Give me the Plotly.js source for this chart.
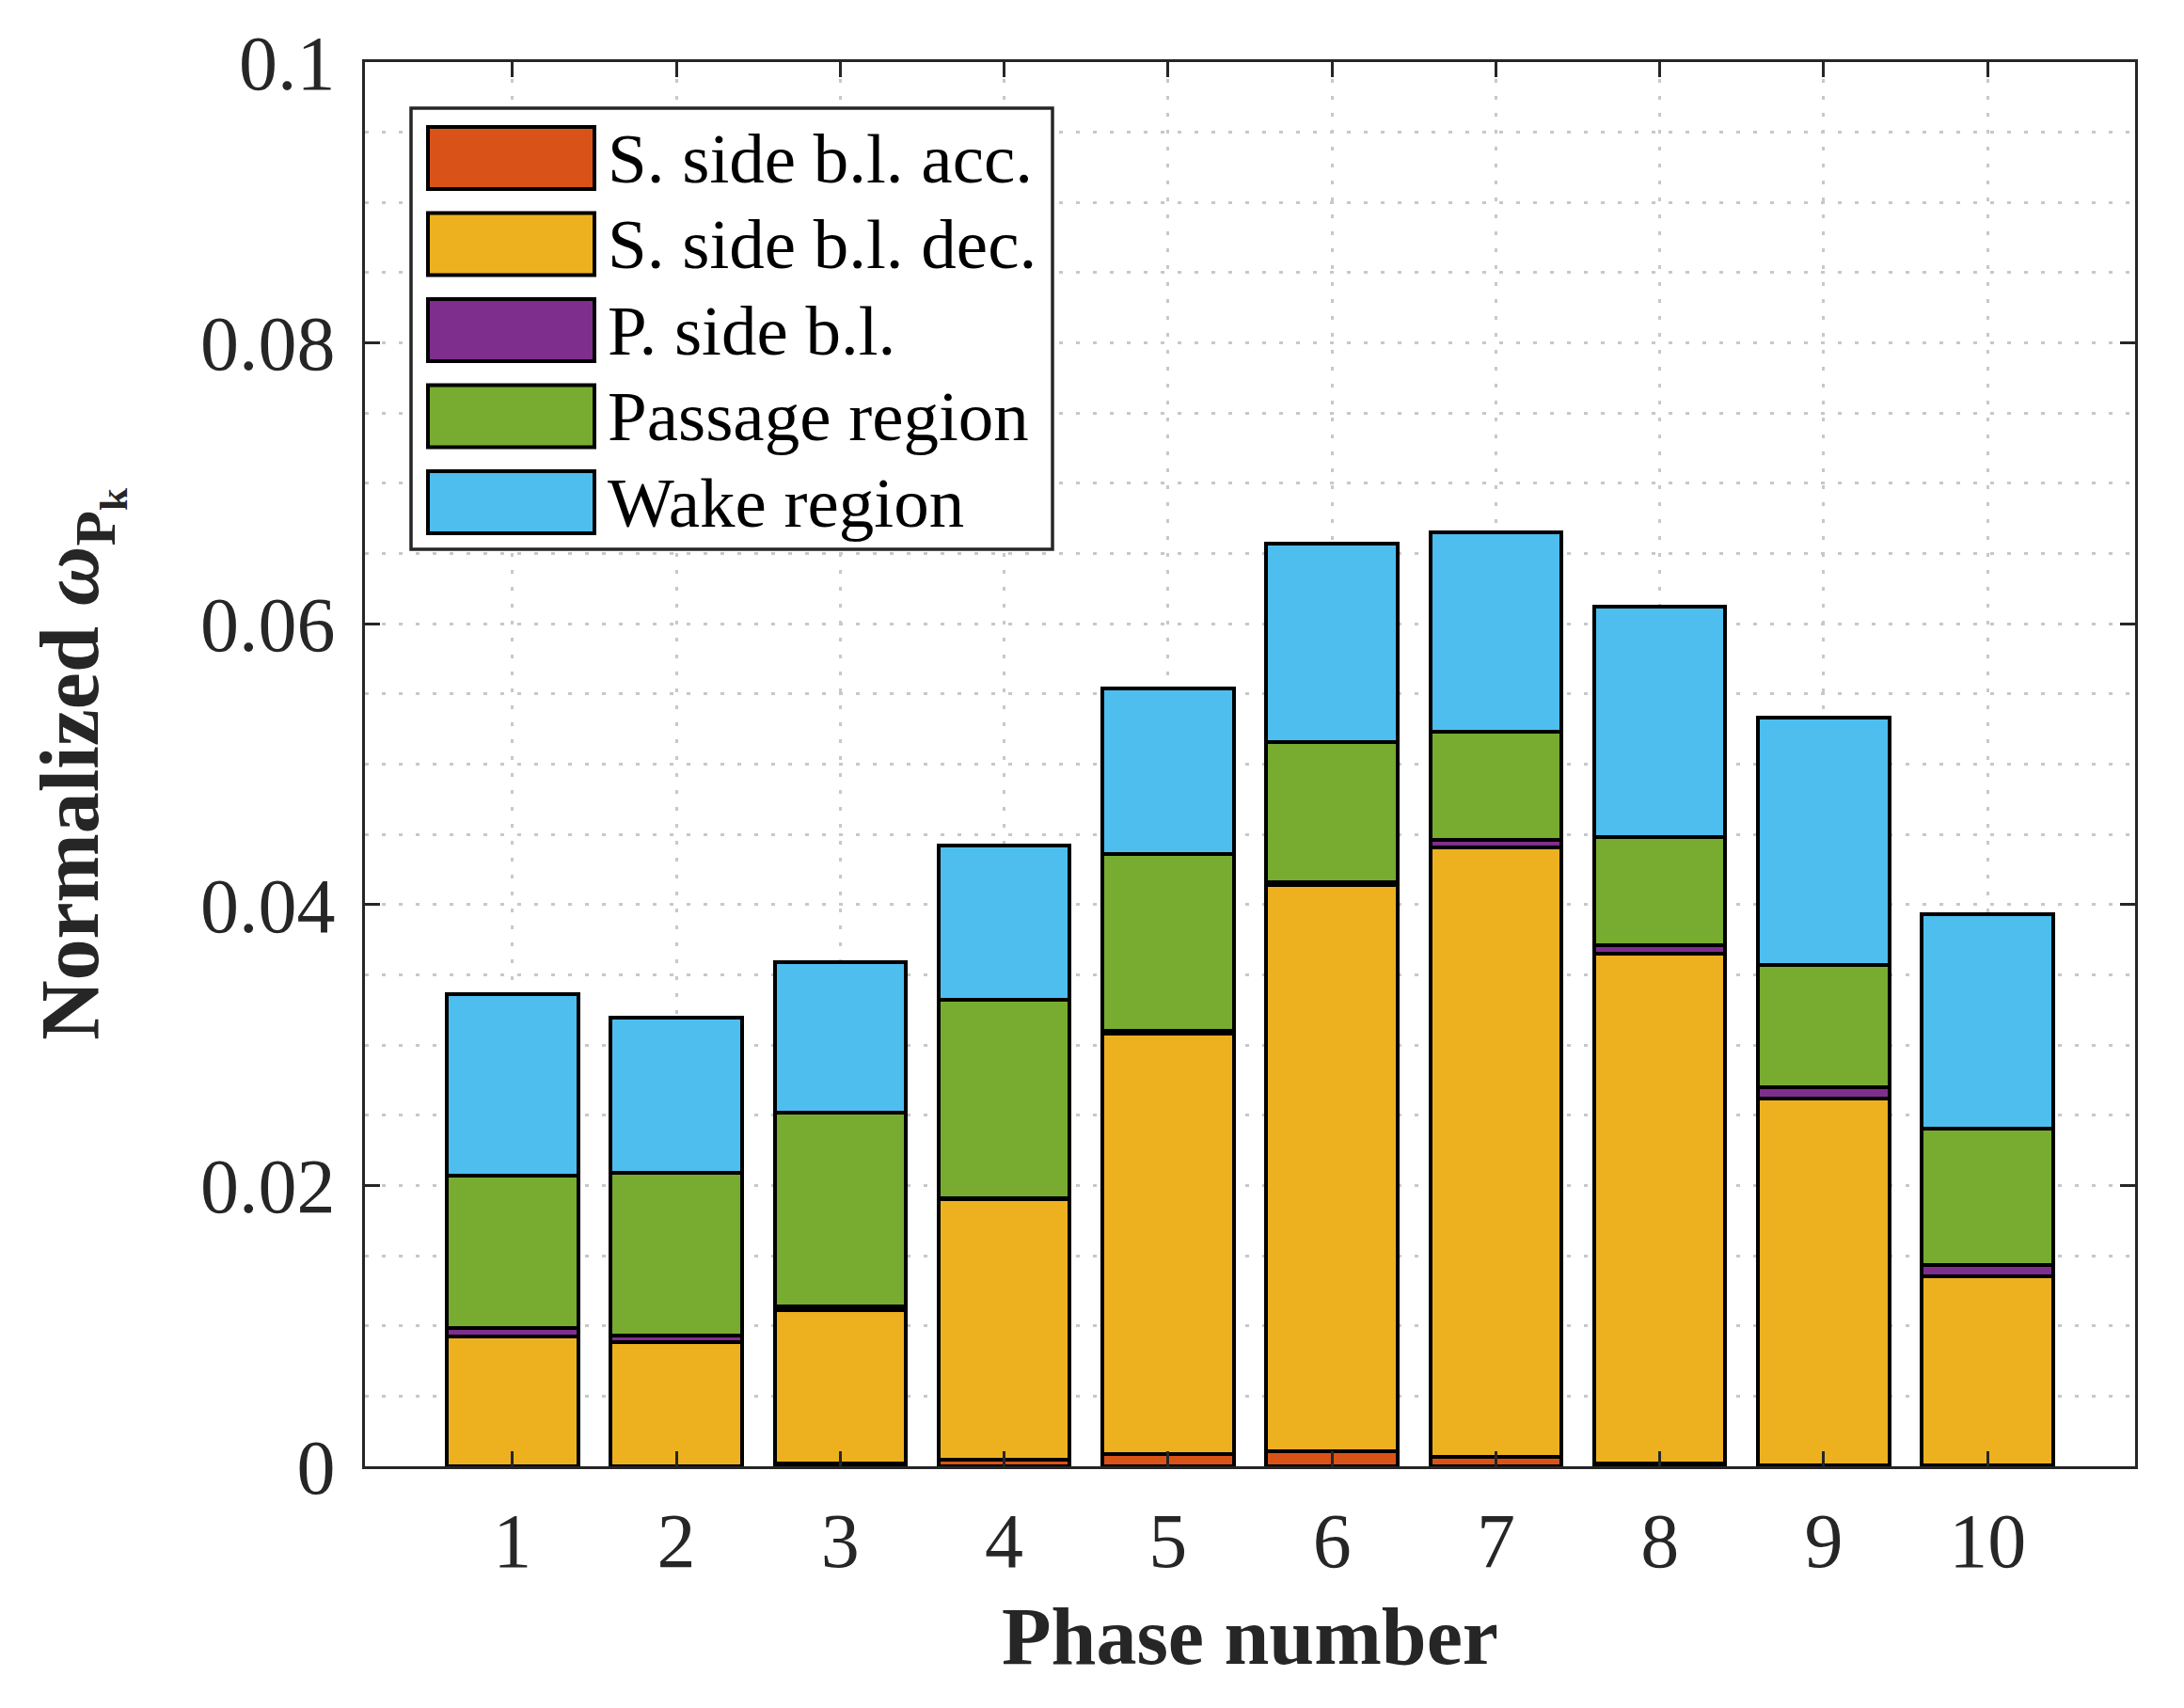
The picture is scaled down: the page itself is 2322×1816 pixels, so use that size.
<!DOCTYPE html>
<html>
<head>
<meta charset="utf-8">
<script src="https://cdn.plot.ly/plotly-3.0.1.min.js"></script>
<style>
  html, body { margin: 0; padding: 0; background: #fff; }
  #chart { width: 2322px; height: 1816px; }
</style>
</head>
<body>
<div id="chart"></div>
<script>
// data
var phases = [1, 2, 3, 4, 5, 6, 7, 8, 9, 10];
var seriesNames = ['S. side b.l. acc.', 'S. side b.l. dec.', 'P. side b.l.', 'Passage region', 'Wake region'];
var accVals  = [0.00002, 0.00002, 0.0002, 0.0005, 0.0009, 0.0011, 0.0007, 0.0002, 0.0001, 0.00005];
var decVals  = [0.0092, 0.0088, 0.0109, 0.0185, 0.0299, 0.0403, 0.0434, 0.0363, 0.0261, 0.0135];
var psideVals = [0.0006, 0.0005, 0.0003, 0.0001, 0.0002, 0.0002, 0.0005, 0.0006, 0.0008, 0.0008];
var passVals = [0.0109, 0.0116, 0.0138, 0.0141, 0.0126, 0.0100, 0.0077, 0.0077, 0.0087, 0.0097];
var wakeVals = [0.0129, 0.0110, 0.0107, 0.0110, 0.0118, 0.0141, 0.0142, 0.0164, 0.0176, 0.0153];
var yTickVals = [0, 0.02, 0.04, 0.06, 0.08, 0.1];
var yTickText = ['0', '0.02', '0.04', '0.06', '0.08', '0.1'];

var colors = ['#D95319', '#EDB120', '#7E2F8E', '#77AC30', '#4DBEEE'];
var allVals = [accVals, decVals, psideVals, passVals, wakeVals];

var W = 2322, H = 1816;
var L = 388, R = 2270, T = 66, B = 1559;   // plot box in pixels
var serif = 'Liberation Serif';
var ink = '#262626';

var traces = [];
for (var s = 0; s < allVals.length; s++) {
  traces.push({
    type: 'bar',
    name: seriesNames[s],
    x: phases,
    y: allVals[s],
    width: 0.8,
    marker: { color: colors[s], line: { color: '#000', width: 4 } },
    showlegend: false
  });
}

// pixel -> paper helpers for the hand drawn legend
function px(x) { return (x - L) / (R - L); }
function py(y) { return (B - y) / (B - T); }

var shapes = [];
var annotations = [];
// legend frame
shapes.push({
  type: 'rect', xref: 'paper', yref: 'paper', layer: 'above',
  x0: px(437), x1: px(1119), y0: py(584), y1: py(115),
  fillcolor: '#fff', line: { color: ink, width: 3.5 }
});
for (var i = 0; i < seriesNames.length; i++) {
  var cy = 168 + 91.5 * i;
  shapes.push({
    type: 'rect', xref: 'paper', yref: 'paper', layer: 'above',
    x0: px(455), x1: px(632), y0: py(cy + 33), y1: py(cy - 33),
    fillcolor: colors[i], line: { color: '#000', width: 4 }
  });
  annotations.push({
    xref: 'paper', yref: 'paper', x: px(644), y: py(cy),
    xanchor: 'left', yanchor: 'middle', showarrow: false,
    text: seriesNames[i],
    font: { family: serif, size: 75, color: '#000' }
  });
}

var layout = {
  width: W, height: H,
  margin: { l: L, r: W - R, t: T, b: H - B },
  paper_bgcolor: '#fff',
  plot_bgcolor: '#fff',
  barmode: 'stack',
  showlegend: false,
  font: { family: serif, color: ink },
  xaxis: {
    range: [0.1, 10.9],
    tickvals: phases,
    ticktext: phases.map(String),
    ticks: 'inside', ticklen: 16, tickwidth: 3, tickcolor: ink,
    showline: true, linecolor: ink, linewidth: 3, mirror: 'ticks',
    showgrid: true, gridcolor: '#c8c8c8', gridwidth: 3, griddash: '4px,14px',
    zeroline: false,
    layer: 'above traces',
    tickfont: { family: serif, size: 82, color: ink },
    ticklabelstandoff: 6,
    title: { text: '<b>Phase number</b>', font: { family: serif, size: 86, color: ink }, standoff: 26 }
  },
  yaxis: {
    range: [0, 0.1],
    tickvals: yTickVals,
    ticktext: yTickText,
    ticks: 'inside', ticklen: 16, tickwidth: 3, tickcolor: ink,
    showline: true, linecolor: ink, linewidth: 3, mirror: 'ticks',
    showgrid: true, gridcolor: '#c8c8c8', gridwidth: 3, griddash: '4px,14px',
    minor: { dtick: 0.005, tick0: 0, showgrid: true, gridcolor: '#c8c8c8', gridwidth: 3, griddash: '4px,14px', ticks: '' },
    zeroline: false,
    layer: 'above traces',
    tickfont: { family: serif, size: 82, color: ink },
    ticklabelstandoff: 12,
    title: { text: '<b>Normalized <i>ω</i><sub>P<sub>k</sub></sub></b>', font: { family: serif, size: 88, color: ink }, standoff: 80 }
  },
  shapes: shapes,
  annotations: annotations
};

Plotly.newPlot('chart', traces, layout, { staticPlot: true, displayModeBar: false });
</script>
</body>
</html>
